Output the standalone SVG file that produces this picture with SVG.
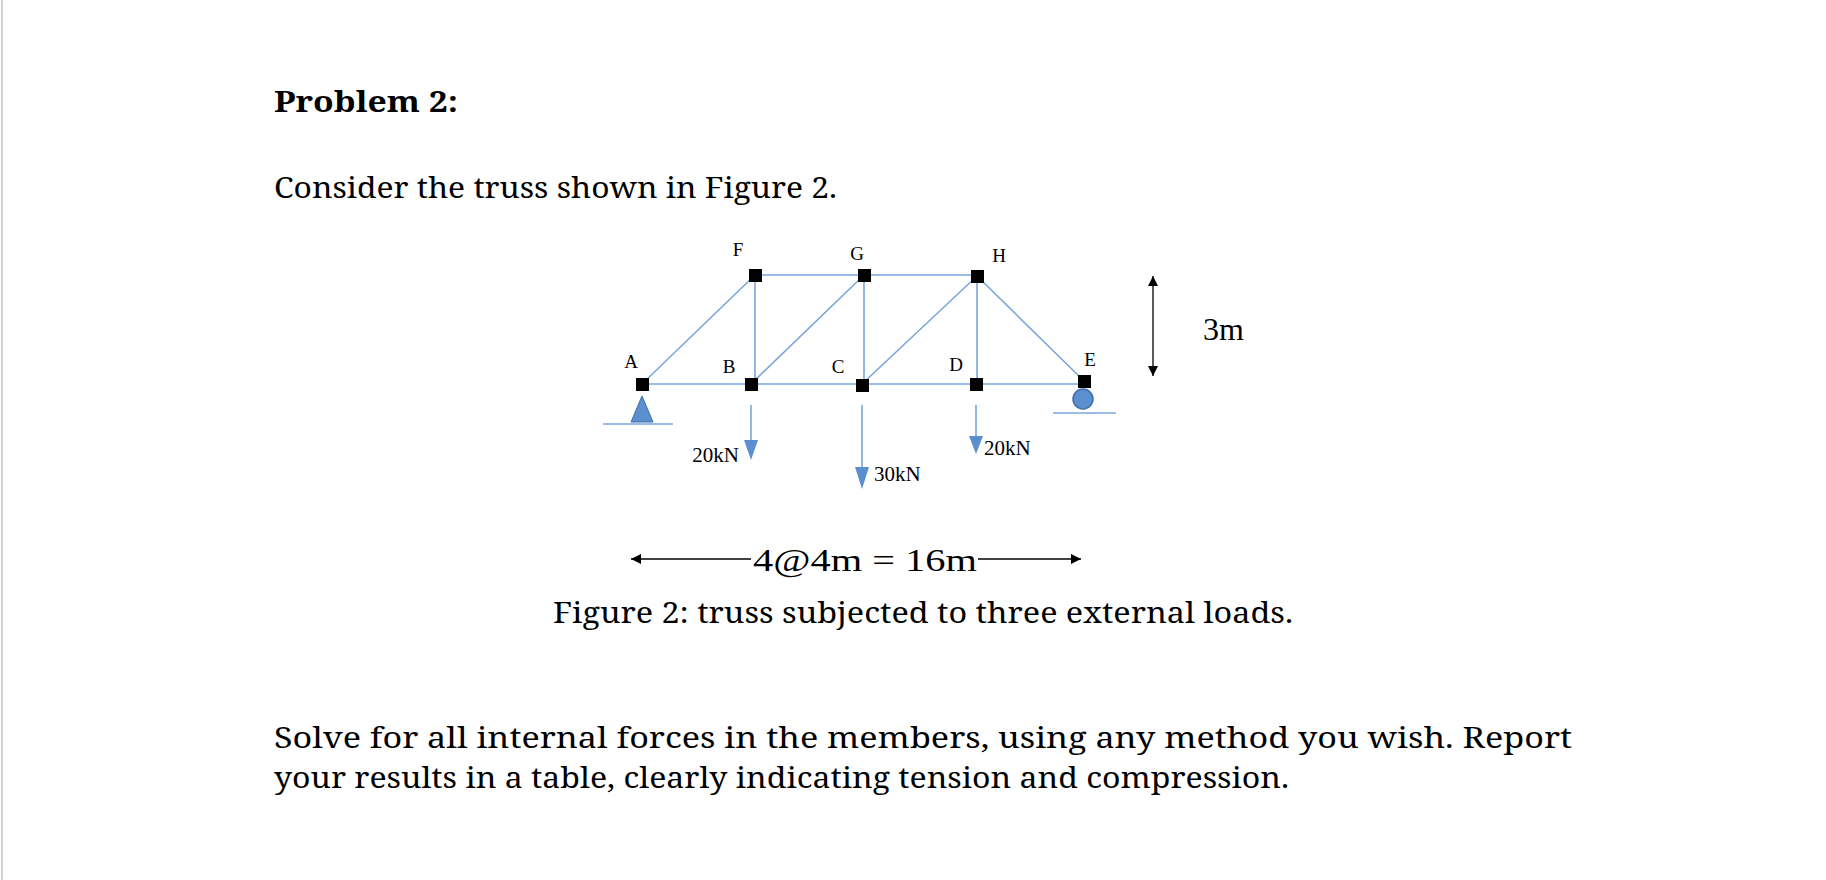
<svg xmlns="http://www.w3.org/2000/svg" width="1826" height="880" viewBox="0 0 1826 880">
<style>
.t{font-family:"Liberation Serif","DejaVu Serif",serif;fill:#000}
.b{font-family:"Noto Serif","Liberation Serif",serif;font-size:29px;fill:#000}
.m{stroke:#7aa6dc;stroke-width:1.6;fill:none}
.n{fill:#000}
.lbl{font-family:"Liberation Serif",serif;font-size:19px}
.blk{stroke:#000;stroke-width:1.3;fill:none}
</style>
<defs>
<marker id="ah" viewBox="0 0 10 10" refX="10" refY="5" markerWidth="8" markerHeight="8" orient="auto-start-reverse"><path d="M0,0 L10,5 L0,10 z" fill="#000"/></marker>
</defs>
<rect width="1826" height="880" fill="#fff"/>
<line x1="2" y1="0" x2="2" y2="880" stroke="#d0d0d8" stroke-width="2"/>
<text class="b" x="274" y="112" font-weight="bold" textLength="184" lengthAdjust="spacingAndGlyphs">Problem 2:</text>
<text class="b" x="274" y="198" textLength="563" lengthAdjust="spacingAndGlyphs">Consider the truss shown in Figure 2.</text>
<text class="b" x="553" y="623" textLength="740" lengthAdjust="spacingAndGlyphs">Figure 2: truss subjected to three external loads.</text>
<text class="b" x="274" y="748" textLength="1298" lengthAdjust="spacingAndGlyphs">Solve for all internal forces in the members, using any method you wish.  Report</text>
<text class="b" x="274" y="788" textLength="1015" lengthAdjust="spacingAndGlyphs">your results in a table, clearly indicating tension and compression.</text>
<g id="connectors">
<path class="m" d="M642,384 H1084 M755,275 H977 M642,384 L755,275 M751,384 L864,275 M862,384 L977,276 M977,276 L1084,381 M755,275 V384 M864,275 V384 M977,276 V384"/>
</g>
<g id="supports">
<path d="M642,396 L631,422 L653,422 Z" fill="#5b8fd0" stroke="#3f6fa8"/>
<line x1="603" y1="424" x2="673" y2="424" stroke="#7aa6dc" stroke-width="1.6"/>
<circle cx="1083" cy="399" r="10" fill="#5b8fd0" stroke="#3f6fa8" stroke-width="1.5"/>
<line x1="1053" y1="413" x2="1116" y2="413" stroke="#7aa6dc" stroke-width="1.6"/>
</g>
<g id="nodes">
<rect id="A" class="n" x="636" y="378" width="13" height="13"/>
<rect id="B" class="n" x="745" y="378" width="13" height="13"/>
<rect id="C" class="n" x="856" y="379" width="13" height="13"/>
<rect id="D" class="n" x="970" y="378" width="13" height="13"/>
<rect id="E" class="n" x="1078" y="375" width="13" height="13"/>
<rect id="F" class="n" x="749" y="269" width="13" height="13"/>
<rect id="G" class="n" x="858" y="269" width="13" height="13"/>
<rect id="H" class="n" x="971" y="270" width="13" height="13"/>
</g>
<g id="labels" class="t lbl">
<text x="631" y="368" text-anchor="middle">A</text>
<text x="729" y="373" text-anchor="middle">B</text>
<text x="838" y="373" text-anchor="middle">C</text>
<text x="956" y="371" text-anchor="middle">D</text>
<text x="1090" y="366" text-anchor="middle">E</text>
<text x="738" y="256" text-anchor="middle">F</text>
<text x="857" y="260" text-anchor="middle">G</text>
<text x="999" y="262" text-anchor="middle">H</text>
</g>
<g id="loads">
<line x1="751" y1="405" x2="751" y2="442" stroke="#7aa6dc" stroke-width="1.6"/>
<path d="M744,440 L758,440 L751,460 Z" fill="#5b8fd0"/>
<text class="t" x="739" y="462" font-size="21" text-anchor="end">20kN</text>
<line x1="862" y1="405" x2="862" y2="468" stroke="#7aa6dc" stroke-width="1.6"/>
<path d="M855,467 L869,467 L862,489 Z" fill="#5b8fd0"/>
<text class="t" x="874" y="481" font-size="21">30kN</text>
<line x1="976" y1="405" x2="976" y2="438" stroke="#7aa6dc" stroke-width="1.6"/>
<path d="M969,436 L983,436 L976,454 Z" fill="#5b8fd0"/>
<text class="t" x="984" y="455" font-size="21">20kN</text>
</g>
<g id="dims">
<line class="blk" x1="1153" y1="276" x2="1153" y2="376" marker-start="url(#ah)" marker-end="url(#ah)"/>
<text class="t" x="1203" y="340" font-size="32">3m</text>
<line class="blk" x1="631" y1="559" x2="751" y2="559" marker-start="url(#ah)"/>
<line class="blk" x1="978" y1="559" x2="1081" y2="559" marker-end="url(#ah)"/>
<text class="t" x="753" y="571" font-size="31" textLength="224" lengthAdjust="spacingAndGlyphs">4@4m = 16m</text>
</g>
</svg>
